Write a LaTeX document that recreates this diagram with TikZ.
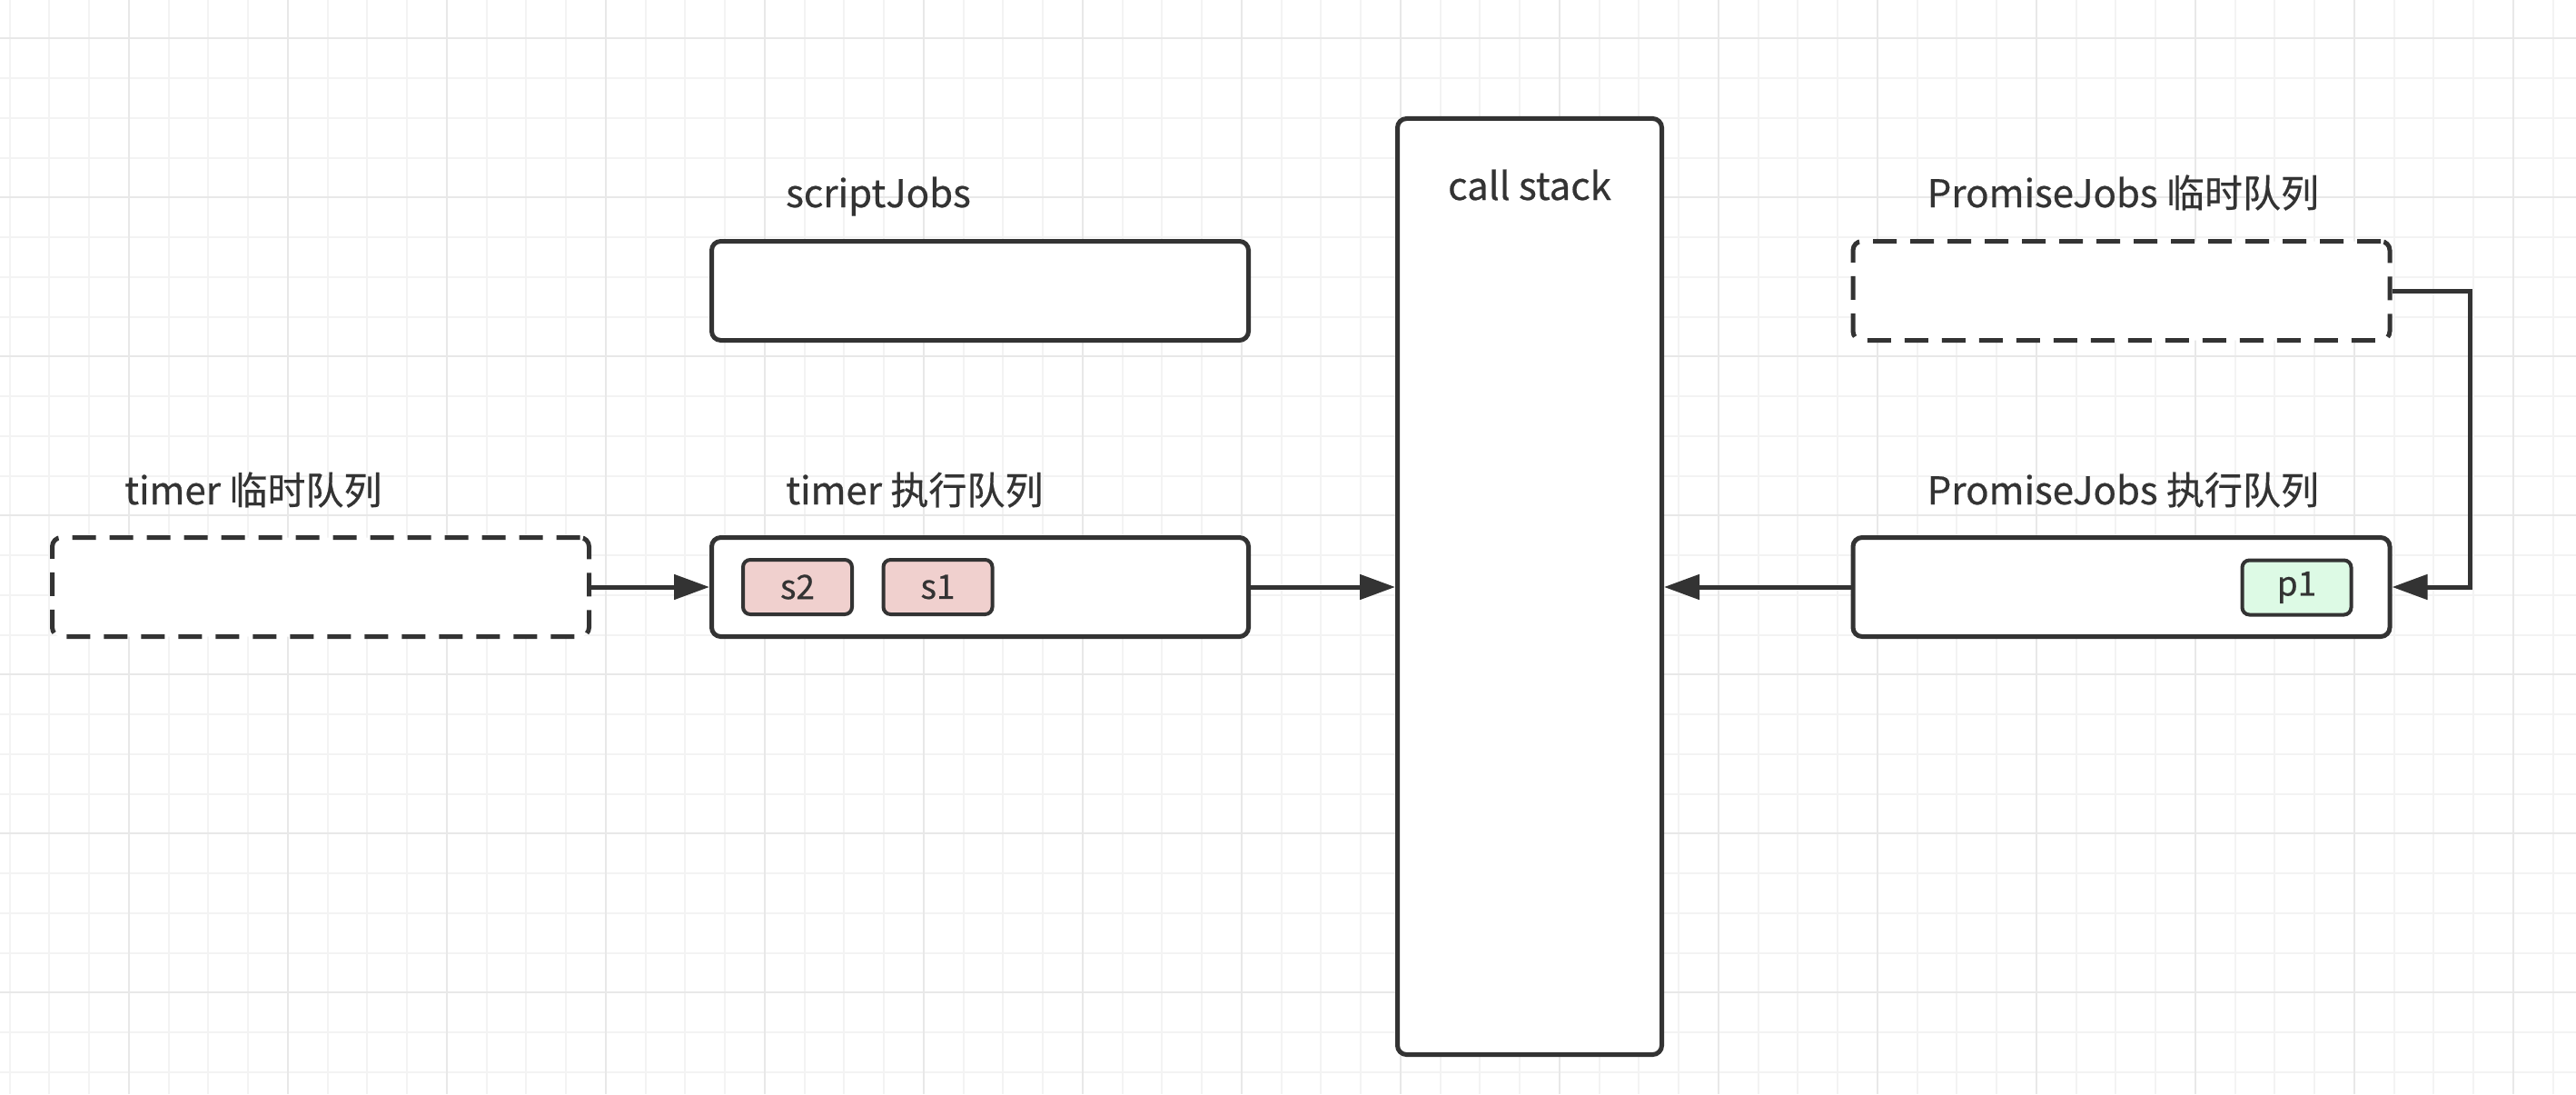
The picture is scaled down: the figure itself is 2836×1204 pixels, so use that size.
\documentclass[tikz,border=0pt]{standalone}
\usepackage{fontspec}
\newfontfamily\cjk{Noto Sans CJK SC}[FakeBold=0.5]
\usetikzlibrary{arrows.meta}
\definecolor{ink}{RGB}{51,51,51}
\definecolor{gridminor}{RGB}{243,243,243}
\definecolor{gridmajor}{RGB}{232,232,232}
\definecolor{jobred}{RGB}{240,208,206}
\definecolor{jobgreen}{RGB}{221,250,229}

\begin{document}
\begin{tikzpicture}[x=1pt,y=-1pt,>={Triangle[length=39pt,width=27pt]},
  queue/.style={draw=ink,line width=5pt,rounded corners=10pt,fill=white,
    minimum width=591pt,minimum height=109pt,inner sep=0pt},
  tmpqueue/.style={queue,dash pattern=on 26pt off 15pt},
  job/.style={draw=ink,line width=4pt,rounded corners=8pt,minimum width=120pt,
    minimum height=60pt,inner sep=0pt,text=ink,font=\cjk\fontsize{37}{42}\selectfont},
  qlabel/.style={anchor=base west,inner sep=0pt,text=ink,font=\cjk\fontsize{42}{50}\selectfont},
  flow/.style={draw=ink,line width=5pt,->}]
\useasboundingbox (0,0) rectangle (2836,1204);
\fill[white] (0,0) rectangle (2836,1204);
% background grid
\foreach \k in {0,...,64} {
  \draw[gridminor,line width=2pt] ({10.7+43.75*\k},0) -- ++(0,1204);
}
\foreach \k in {0,...,26} {
  \draw[gridminor,line width=2pt] (0,{42.3+43.75*\k}) -- ++(2836,0);
}
\foreach \k in {0,...,15} {
  \draw[gridmajor,line width=2pt] ({141.95+175*\k},0) -- ++(0,1204);
}
\foreach \k in {0,...,6} {
  \draw[gridmajor,line width=2pt] (0,{42.3+175*\k}) -- ++(2836,0);
}

\node[tmpqueue] (timertmp) at (353,646) {};
\node[queue] (timerrun) at (1079,646) {};
\node[queue] (script) at (1079,320) {};
\node[queue,minimum width=291pt,minimum height=1030pt] (stack) at (1684,645.5) {};
\node[tmpqueue] (promisetmp) at (2335.5,320) {};
\node[queue] (promiserun) at (2335.5,646) {};

\node[job,fill=jobred] (s2) at (878,646) {s2};
\node[job,fill=jobred] (s1) at (1032.5,646) {s1};
\node[job,fill=jobgreen] (p1) at (2528.5,646.5) {p1};

\node[qlabel] (timertmplabel) at ([xshift=82pt,yshift=34pt]timertmp.north west) {timer 临时队列};
\node[qlabel] (timerrunlabel) at ([xshift=84pt,yshift=34pt]timerrun.north west) {timer 执行队列};
\node[qlabel] (scriptlabel) at ([xshift=84pt,yshift=35pt]script.north west) {scriptJobs};
\node[qlabel] (promisetmplabel) at ([xshift=84pt,yshift=35pt]promisetmp.north west) {PromiseJobs 临时队列};
\node[qlabel] (promiserunlabel) at ([xshift=84pt,yshift=34pt]promiserun.north west) {PromiseJobs 执行队列};
\node[qlabel,anchor=base] (stacklabel) at ([yshift=-92pt]stack.north) {call stack};

\draw[flow] (timertmp) -- (timerrun);
\draw[flow] (timerrun.east) -- (timerrun.east -| stack.west);
\draw[flow] (promiserun.west) -- (promiserun.west -| stack.east);
\draw[flow] (promisetmp.east) -- ++(86,0) |- (promiserun.east);
\end{tikzpicture}
\end{document}
